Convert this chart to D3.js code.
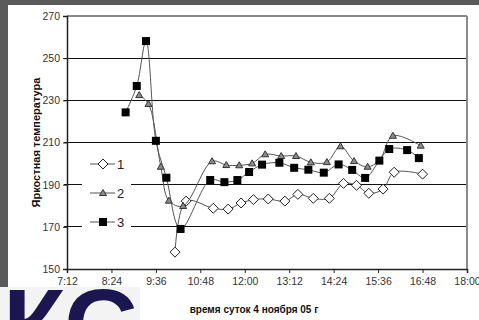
<!DOCTYPE html>
<html>
<head>
<meta charset="utf-8">
<script src="https://cdn.jsdelivr.net/npm/d3@7"></script>
<style>
  body { margin: 0; background: #fff; }
  svg { display: block; font-family: "Liberation Sans", Arial, sans-serif; }
</style>
</head>
<body>
<div id="chart"></div>
<script>
// series 1 (diamonds)
const times1 = ["10:07","10:25","11:09","11:33","11:54","12:14","12:38","13:05","13:26","13:51","14:17","14:40","15:01","15:21","15:44","16:02","16:48"];
const values1 = [158, 182.2, 178.8, 178.4, 181.3, 182.9, 183.2, 182.2, 185.4, 183.5, 183.5, 190.6, 189.7, 185.9, 187.9, 195.9, 195];
// series 2 (triangles)
const times2 = ["9:09","9:24","9:44","9:57","10:20","11:07","11:30","11:51","12:12","12:33","12:59","13:23","13:47","14:13","14:35","14:57","15:19","15:38","16:00","16:45"];
const values2 = [232.5, 228.3, 198.5, 182.4, 179.9, 201.1, 199.3, 199.2, 200.1, 204.4, 203.6, 203.6, 200.6, 200.7, 208.2, 201.2, 198.5, 201.5, 213.2, 208.5];
// series 3 (squares)
const times3 = ["8:47","9:05","9:20","9:36","9:53","10:16","11:04","11:27","11:48","12:07","12:28","12:56","13:20","13:43","14:08","14:32","14:54","15:15","15:38","15:54","16:23","16:42"];
const values3 = [224.3, 236.8, 258.1, 210.8, 193.3, 169, 192.2, 191.2, 192.2, 196, 199.5, 200.4, 198, 197.1, 195.7, 199.6, 197, 193.2, 201.4, 206.9, 206.4, 202.6];

const seriesNames = ["1", "2", "3"];
const yTicks = [150, 170, 190, 210, 230, 250, 270];
const xTicks = ["7:12","8:24","9:36","10:48","12:00","13:12","14:24","15:36","16:48","18:00"];
const yTitle = "Яркостная температура";
const xTitle = "время суток 4 ноября 05 г";
const logoText = "КС";

function toMin(t) {
    const p = t.split(":");
    return +p[0] * 60 + +p[1];
}
function fmt(m) {
    const h = Math.floor(m / 60), mm = m % 60;
    return h + ":" + (mm < 10 ? "0" + mm : mm);
}

const W = 479, H = 320;
const svg = d3.select("#chart").append("svg")
    .attr("width", W)
    .attr("height", H);

// dark frame strips
svg.append("rect").attr("x", 0).attr("y", 0).attr("width", W).attr("height", 5).attr("fill", "#5b5b5b");
svg.append("rect").attr("x", 0).attr("y", 0).attr("width", 8).attr("height", 287).attr("fill", "#5b5b5b");

const x = d3.scaleLinear().domain([toMin("7:12"), toMin("18:00")]).range([67, 467]);
const y = d3.scaleLinear().domain([150, 270]).range([269, 16]);

// gridlines
svg.append("g")
    .selectAll("line")
    .data(yTicks.filter(d => d > 150 && d < 270))
    .enter().append("line")
    .attr("x1", 64).attr("x2", 467)
    .attr("y1", d => y(d)).attr("y2", d => y(d))
    .attr("stroke", "#111").attr("stroke-width", 1)
    .attr("shape-rendering", "crispEdges");

// plot border (top/right gray)
svg.append("line").attr("x1", 67).attr("x2", 467).attr("y1", y(270)).attr("y2", y(270))
    .attr("stroke", "#8a8a8a").attr("stroke-width", 1.5).attr("shape-rendering", "crispEdges");
svg.append("line").attr("x1", 467).attr("x2", 467).attr("y1", y(270)).attr("y2", y(150))
    .attr("stroke", "#8a8a8a").attr("stroke-width", 1.5).attr("shape-rendering", "crispEdges");

// axes
const yAxis = svg.append("g")
    .attr("transform", "translate(67,0)")
    .call(d3.axisLeft(y).tickValues(yTicks).tickSize(4).tickPadding(3));
const xAxis = svg.append("g")
    .attr("transform", `translate(0,${y(150)})`)
    .call(d3.axisBottom(x).tickValues(xTicks.map(toMin)).tickFormat(fmt).tickSize(4).tickPadding(5));
[yAxis, xAxis].forEach(a => {
    a.select(".domain").attr("stroke", "#222").attr("stroke-width", 1.5);
    a.selectAll(".tick line").attr("stroke", "#222");
    a.selectAll(".tick text").attr("fill", "#333").style("font-size", "10.5px");
});

// legend box (white, covers gridlines)
const legend = svg.append("g");
legend.append("rect").attr("x", 82).attr("y", 150).attr("width", 49).attr("height", 86).attr("fill", "#fff");

const line = d3.line()
    .x(d => x(d.t))
    .y(d => y(d.v))
    .curve(d3.curveCatmullRom.alpha(0.5));

const sets = [
    { name: seriesNames[0], data: times1.map((t, i) => ({ t: toMin(t), v: values1[i] })), shape: "diamond" },
    { name: seriesNames[1], data: times2.map((t, i) => ({ t: toMin(t), v: values2[i] })), shape: "triangle" },
    { name: seriesNames[2], data: times3.map((t, i) => ({ t: toMin(t), v: values3[i] })), shape: "square" }
];

function drawMarker(g, shape, cx, cy) {
    if (shape === "diamond") {
        g.append("path")
            .attr("d", `M${cx},${cy - 5}L${cx + 5},${cy}L${cx},${cy + 5}L${cx - 5},${cy}Z`)
            .attr("fill", "#fff").attr("stroke", "#222").attr("stroke-width", 1);
    } else if (shape === "triangle") {
        g.append("path")
            .attr("d", `M${cx},${cy - 3.5}L${cx + 3.5},${cy + 2.5}L${cx - 3.5},${cy + 2.5}Z`)
            .attr("fill", "#8c8c8c").attr("stroke", "#333").attr("stroke-width", 1);
    } else {
        g.append("rect")
            .attr("x", cx - 4).attr("y", cy - 4).attr("width", 8).attr("height", 8)
            .attr("fill", "#000");
    }
}

sets.forEach(s => {
    const g = svg.append("g");
    g.append("path")
        .datum(s.data)
        .attr("d", line)
        .attr("fill", "none")
        .attr("stroke", "#555")
        .attr("stroke-width", 1);
    s.data.forEach(d => drawMarker(g, s.shape, x(d.t), y(d.v)));
});

// legend entries
sets.forEach((s, i) => {
    const ly = 164 + i * 29;
    legend.append("line").attr("x1", 90).attr("x2", 115).attr("y1", ly).attr("y2", ly)
        .attr("stroke", "#555").attr("stroke-width", 1);
    drawMarker(legend, s.shape, 103, ly);
    legend.append("text").attr("x", 117).attr("y", ly + 4.5)
        .style("font-size", "13px").attr("fill", "#222").text(s.name);
});

// axis titles
svg.append("text")
    .attr("transform", `translate(40,${(y(150) + y(270)) / 2}) rotate(-90)`)
    .attr("text-anchor", "middle")
    .style("font-size", "11px").style("font-weight", "bold")
    .attr("fill", "#111")
    .text(yTitle);
svg.append("text")
    .attr("x", 254).attr("y", 313)
    .attr("text-anchor", "middle")
    .style("font-size", "10px").style("font-weight", "bold")
    .attr("fill", "#111")
    .text(xTitle);

// overlapping logo fragment in the lower-left corner
svg.append("clipPath").attr("id", "logoclip")
    .append("rect").attr("x", 0).attr("y", 287).attr("width", 140).attr("height", 33);
svg.append("rect").attr("x", 0).attr("y", 287).attr("width", 140).attr("height", 33).attr("fill", "#f3f3f3");
svg.append("text")
    .attr("clip-path", "url(#logoclip)")
    .attr("x", 3).attr("y", 359)
    .attr("textLength", 135)
    .attr("lengthAdjust", "spacingAndGlyphs")
    .style("font-size", "100px").style("font-weight", "bold")
    .style("font-family", "'Liberation Sans', Arial, sans-serif")
    .attr("fill", "#1b1650")
    .text(logoText);
</script>
</body>
</html>
